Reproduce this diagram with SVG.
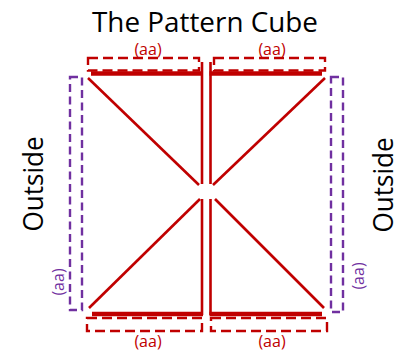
<svg xmlns="http://www.w3.org/2000/svg" width="405" height="352" viewBox="0 0 405 352">
<style>
.red{stroke:#C00000;fill:none}
.sol{stroke-width:2.6}
.bar{stroke-width:4.5}
.dr{stroke:#C00000;fill:none;stroke-width:2.4;stroke-dasharray:10 5}
.dp{stroke:#7030A0;fill:none;stroke-width:2.4;stroke-dasharray:8 4.5}
.t{font-family:"Open Sans","Liberation Sans",sans-serif;fill:#000}
.lr{font-family:"Open Sans","Liberation Sans",sans-serif;fill:#C00000;font-size:16px;text-anchor:middle}
.lp{font-family:"Open Sans","Liberation Sans",sans-serif;fill:#7030A0;font-size:16px;text-anchor:middle;dominant-baseline:central}
</style>
<rect width="405" height="352" fill="#fff"/>
<text class="t" x="205" y="32" font-size="28" text-anchor="middle" textLength="226" lengthAdjust="spacingAndGlyphs">The Pattern Cube</text>
<g id="cube">
<line class="red sol" x1="202" y1="62" x2="202" y2="184"/>
<line class="red sol" x1="210.5" y1="62" x2="210.5" y2="184"/>
<line class="red sol" x1="202" y1="199" x2="202" y2="315"/>
<line class="red sol" x1="210.5" y1="199" x2="210.5" y2="315"/>
<line class="red sol" x1="88" y1="78" x2="199" y2="185"/>
<line class="red sol" x1="325" y1="78" x2="213" y2="185"/>
<line class="red sol" x1="200" y1="199" x2="89" y2="308"/>
<line class="red sol" x1="215" y1="199" x2="324" y2="308"/>
<line class="red bar" x1="91" y1="73.5" x2="203" y2="73.5"/>
<line class="red bar" x1="209.5" y1="73.5" x2="322" y2="73.5"/>
<line class="red bar" x1="92" y1="314" x2="203" y2="314"/>
<line class="red bar" x1="209.5" y1="314" x2="322" y2="314"/>
</g>
<g id="top-left">
<rect class="dr" x="88" y="58" width="111" height="12.5"/>
<text class="lr" x="148" y="55">(aa)</text>
</g>
<g id="top-right">
<rect class="dr" x="214" y="58" width="111" height="12.5"/>
<text class="lr" x="272" y="55">(aa)</text>
</g>
<g id="bottom-left">
<rect class="dr" x="87" y="318" width="115" height="13"/>
<text class="lr" x="148" y="347">(aa)</text>
</g>
<g id="bottom-right">
<rect class="dr" x="211" y="318" width="116" height="13"/>
<text class="lr" x="272" y="347">(aa)</text>
</g>
<g id="left-side">
<rect class="dp" x="70" y="77" width="12" height="233"/>
<text class="lp" transform="translate(58,282) rotate(-90)">(aa)</text>
<text class="t" font-size="28" text-anchor="middle" dominant-baseline="central" textLength="95" lengthAdjust="spacingAndGlyphs" transform="translate(32,184) rotate(-90)">Outside</text>
</g>
<g id="right-side">
<rect class="dp" x="331" y="77" width="12" height="235"/>
<text class="lp" transform="translate(358,276) rotate(-90)">(aa)</text>
<text class="t" font-size="28" text-anchor="middle" dominant-baseline="central" textLength="95" lengthAdjust="spacingAndGlyphs" transform="translate(382,185) rotate(-90)">Outside</text>
</g>
</svg>
